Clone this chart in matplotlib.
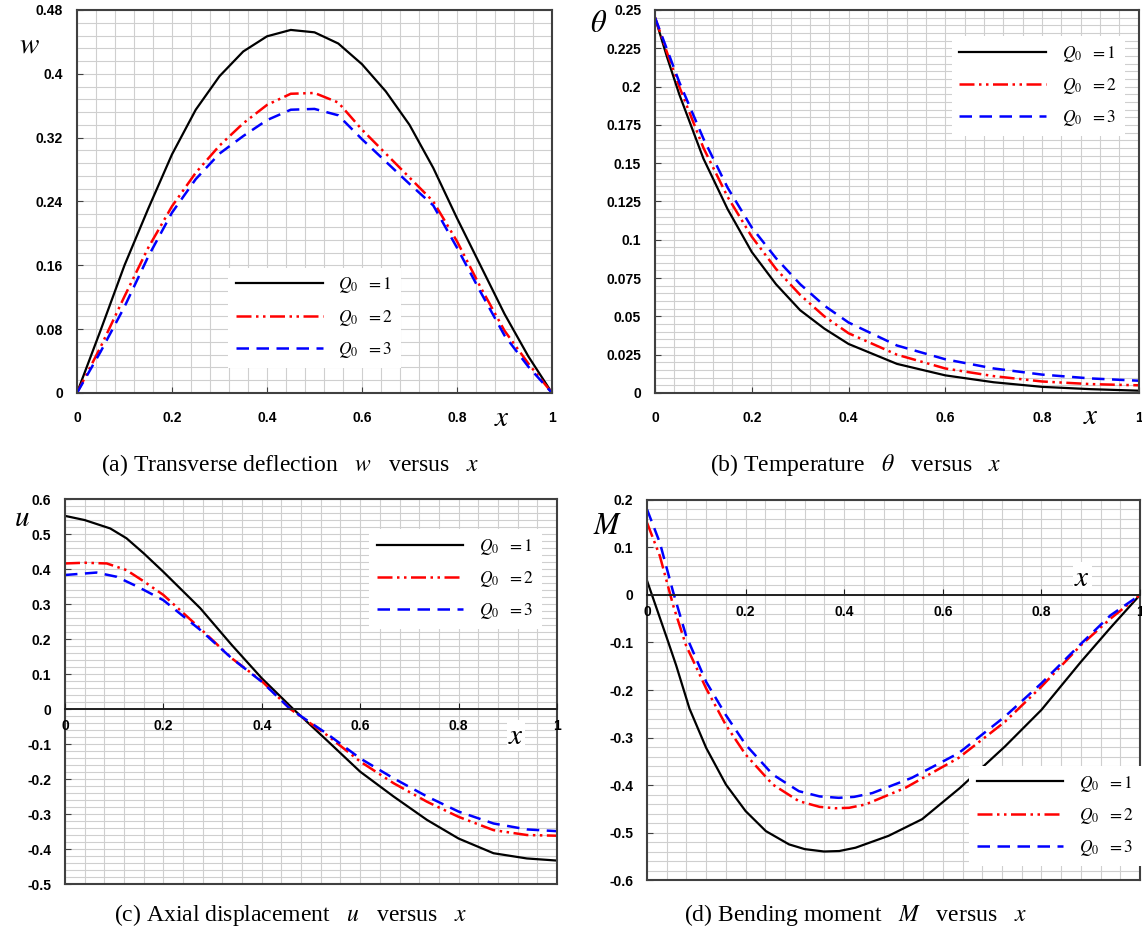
import numpy as np
import matplotlib.pyplot as plt
from matplotlib.ticker import MultipleLocator, FuncFormatter

plt.rcParams['mathtext.fontset'] = 'stix'

labels = [r'$Q_0\ \ = 1$', r'$Q_0\ \ = 2$', r'$Q_0\ \ = 3$']

# (a) transverse deflection w
wx = [0, 0.05, 0.1, 0.15, 0.2, 0.25, 0.3, 0.35, 0.4, 0.45, 0.5,
      0.55, 0.6, 0.65, 0.7, 0.75, 0.8, 0.85, 0.9, 0.95, 1.0]
wy1 = [0, 0.079, 0.16, 0.231, 0.299, 0.355, 0.397, 0.428, 0.447, 0.455, 0.452,
       0.438, 0.412, 0.378, 0.336, 0.282, 0.219, 0.159, 0.099, 0.046, 0]
wy2 = [0, 0.058, 0.121, 0.182, 0.234, 0.276, 0.31, 0.338, 0.361, 0.375, 0.376,
       0.364, 0.33, 0.3, 0.27, 0.24, 0.19, 0.132, 0.078, 0.037, 0]
wy3 = [0, 0.052, 0.108, 0.171, 0.226, 0.268, 0.3, 0.322, 0.342, 0.355, 0.356,
       0.348, 0.318, 0.29, 0.262, 0.235, 0.182, 0.126, 0.072, 0.033, 0]

# (b) temperature theta
tx = [0, 0.025, 0.05, 0.1, 0.15, 0.2, 0.25, 0.3, 0.35, 0.4, 0.5, 0.6, 0.7, 0.8, 0.9, 1.0]
ty1 = [0.245, 0.219, 0.195, 0.153, 0.12, 0.092, 0.071, 0.054, 0.042, 0.032, 0.019, 0.0115, 0.007, 0.004, 0.0025, 0.0015]
ty2 = [0.245, 0.222, 0.2, 0.16, 0.128, 0.102, 0.081, 0.064, 0.05, 0.039, 0.025, 0.016, 0.011, 0.0075, 0.0058, 0.005]
ty3 = [0.245, 0.224, 0.203, 0.166, 0.134, 0.108, 0.088, 0.071, 0.057, 0.046, 0.031, 0.022, 0.016, 0.012, 0.0095, 0.008]

# (c) axial displacement u
ux1 = [0, 0.04, 0.092, 0.125, 0.16, 0.2, 0.275, 0.339, 0.4, 0.464, 0.532, 0.6, 0.668, 0.736, 0.8, 0.871, 0.939, 1.0]
uy1 = [0.552, 0.54, 0.516, 0.488, 0.445, 0.392, 0.288, 0.183, 0.088, 0, -0.089, -0.179, -0.25, -0.317, -0.37, -0.412, -0.427, -0.433]
ux2 = [0, 0.04, 0.085, 0.125, 0.16, 0.2, 0.275, 0.339, 0.4, 0.458, 0.532, 0.6, 0.668, 0.736, 0.8, 0.871, 0.939, 1.0]
uy2 = [0.416, 0.418, 0.416, 0.397, 0.365, 0.326, 0.23, 0.145, 0.08, 0, -0.074, -0.15, -0.212, -0.265, -0.308, -0.346, -0.36, -0.362]
ux3 = [0, 0.064, 0.105, 0.15, 0.2, 0.275, 0.339, 0.4, 0.458, 0.532, 0.6, 0.668, 0.736, 0.8, 0.871, 0.939, 1.0]
uy3 = [0.383, 0.39, 0.378, 0.348, 0.311, 0.226, 0.145, 0.078, 0, -0.07, -0.141, -0.198, -0.25, -0.293, -0.327, -0.344, -0.349]

# (d) bending moment M
mx1 = [0, 0.02, 0.04, 0.059, 0.086, 0.12, 0.16, 0.2, 0.241, 0.288, 0.32, 0.359, 0.39, 0.423,
       0.49, 0.558, 0.635, 0.726, 0.8, 0.88, 0.941, 1.0]
my1 = [0.03, -0.03, -0.09, -0.148, -0.239, -0.322, -0.399, -0.455, -0.497, -0.525, -0.535, -0.54, -0.539, -0.532,
       -0.507, -0.472, -0.406, -0.319, -0.242, -0.141, -0.068, 0]
mx2 = [0, 0.026, 0.053, 0.079, 0.12, 0.16, 0.2, 0.255, 0.308, 0.35, 0.382, 0.41, 0.443,
       0.524, 0.632, 0.726, 0.8, 0.88, 0.94, 1.0]
my2 = [0.152, 0.082, -0.022, -0.106, -0.197, -0.274, -0.336, -0.399, -0.434, -0.446, -0.449, -0.448, -0.441,
       -0.406, -0.343, -0.267, -0.193, -0.106, -0.05, 0]
mx3 = [0, 0.026, 0.053, 0.079, 0.12, 0.16, 0.2, 0.255, 0.308, 0.35, 0.389, 0.42, 0.457,
       0.537, 0.632, 0.726, 0.8, 0.88, 0.94, 1.0]
my3 = [0.18, 0.11, 0.006, -0.085, -0.183, -0.253, -0.315, -0.378, -0.413, -0.424, -0.427, -0.425, -0.417,
       -0.385, -0.333, -0.256, -0.186, -0.103, -0.043, 0]

styles = [
    dict(color='black', lw=1.6, ls='-'),
    dict(color='red', lw=1.8, ls=(0, (6, 1.8, 1, 1.8, 1, 1.8))),
    dict(color='blue', lw=1.8, ls=(0, (5, 3))),
]

spine_col = '#404040'
fmt = FuncFormatter(lambda v, p: '%g' % round(v, 4))

fig = plt.figure(figsize=(11.42, 9.33), dpi=100)


def bold_labels(labs):
    for lab in labs:
        lab.set_family('Liberation Sans')
        lab.set_fontweight('bold')


def setup(ax, ylim, ymaj, ymin, zero_axis=False):
    ax.set_xlim(0, 1)
    ax.set_ylim(*ylim)
    for s in ax.spines.values():
        s.set_color(spine_col)
        s.set_linewidth(1.5)
    ax.xaxis.set_major_locator(MultipleLocator(0.2))
    ax.xaxis.set_minor_locator(MultipleLocator(0.04))
    ax.yaxis.set_major_locator(MultipleLocator(ymaj))
    ax.yaxis.set_minor_locator(MultipleLocator(ymin))
    ax.xaxis.set_major_formatter(fmt)
    ax.yaxis.set_major_formatter(fmt)
    ax.grid(which='both', color='#cfcfcf', lw=0.8)
    ax.set_axisbelow(True)
    ax.tick_params(which='major', direction='in', length=4, color=spine_col, pad=10, labelsize=10)
    ax.tick_params(axis='x', pad=13)
    ax.tick_params(which='minor', length=0)
    bold_labels(ax.get_xticklabels() + ax.get_yticklabels())
    if zero_axis:
        # x axis drawn along the zero line
        ax.tick_params(axis='x', labelbottom=False, length=0)
        sec = ax.secondary_xaxis((0 - ylim[0]) / (ylim[1] - ylim[0]))
        sec.set_zorder(2.5)
        sec.xaxis.set_ticks_position('bottom')
        sec.xaxis.set_major_locator(MultipleLocator(0.2))
        sec.xaxis.set_major_formatter(fmt)
        sec.tick_params(direction='in', length=4, color='#202020', pad=7, labelsize=10)
        for side in ('top', 'bottom'):
            sec.spines[side].set_visible(True)
            sec.spines[side].set_color('#202020')
            sec.spines[side].set_linewidth(1.2)
        bold_labels(sec.get_xticklabels())


def legend(ax, **kw):
    leg = ax.legend(labels, fontsize=12.5, handlelength=5.0, labelspacing=0.7,
                    borderpad=0.45, handletextpad=0.9, fancybox=False, **kw)
    leg.get_frame().set_edgecolor('none')
    leg.get_frame().set_alpha(1)
    leg.set_zorder(5)


# (a)
ax = fig.add_axes([0.0674, 0.5788, 0.416, 0.4105])
for ys, st in zip([wy1, wy2, wy3], styles):
    ax.plot(wx, ys, **st)
setup(ax, (0, 0.48), 0.08, 0.016)
legend(ax, loc='upper left', bbox_to_anchor=(0.30, 0.35))
ax.text(-0.10, 0.91, '$w$', transform=ax.transAxes, fontsize=21, ha='center', va='center')
ax.text(0.895, -0.065, '$x$', transform=ax.transAxes, fontsize=21, ha='center', va='center')

# (b)
ax = fig.add_axes([0.5736, 0.5788, 0.4236, 0.4105])
for ys, st in zip([ty1, ty2, ty3], styles):
    ax.plot(tx, ys, **st)
setup(ax, (0, 0.25), 0.025, 0.005)
legend(ax, loc='upper left', bbox_to_anchor=(0.595, 0.955))
ax.text(-0.117, 0.965, r'$\theta$', transform=ax.transAxes, fontsize=22, ha='center', va='center')
ax.text(0.90, -0.06, '$x$', transform=ax.transAxes, fontsize=21, ha='center', va='center')

# (c)
ax = fig.add_axes([0.0569, 0.0525, 0.4308, 0.4126])
for xs, ys, st in zip([ux1, ux2, ux3], [uy1, uy2, uy3], styles):
    ax.plot(xs, ys, **st)
setup(ax, (-0.5, 0.6), 0.1, 0.02, zero_axis=True)
legend(ax, loc='upper left', bbox_to_anchor=(0.60, 0.945))
ax.text(-0.087, 0.95, '$u$', transform=ax.transAxes, fontsize=21, ha='center', va='center')
ax.text(0.917, 0.385, '$x$', transform=ax.transAxes, fontsize=21, ha='center', va='center',
        bbox=dict(facecolor='white', edgecolor='none', pad=1))

# (d)
ax = fig.add_axes([0.5666, 0.0568, 0.4316, 0.4073])
for xs, ys, st in zip([mx1, mx2, mx3], [my1, my2, my3], styles):
    ax.plot(xs, ys, **st)
setup(ax, (-0.6, 0.2), 0.1, 0.02, zero_axis=True)
legend(ax, loc='lower left', bbox_to_anchor=(0.635, 0.015))
ax.text(-0.081, 0.934, '$M$', transform=ax.transAxes, fontsize=22, ha='center', va='center')
ax.text(0.883, 0.795, '$x$', transform=ax.transAxes, fontsize=21, ha='center', va='center',
        bbox=dict(facecolor='white', edgecolor='none', pad=1))

cap = dict(family='Liberation Serif', fontsize=17, ha='center', va='center')
fig.text(0.254, 0.5016, r'(a) Transverse deflection   $w$   versus   $x$', **cap)
fig.text(0.749, 0.5016, r'(b) Temperature   $\theta$   versus   $x$', **cap)
fig.text(0.254, 0.019, r'(c) Axial displacement   $u$   versus   $x$', **cap)
fig.text(0.749, 0.019, r'(d) Bending moment   $M$   versus   $x$', **cap)

fig.savefig('out.png', dpi=100)
